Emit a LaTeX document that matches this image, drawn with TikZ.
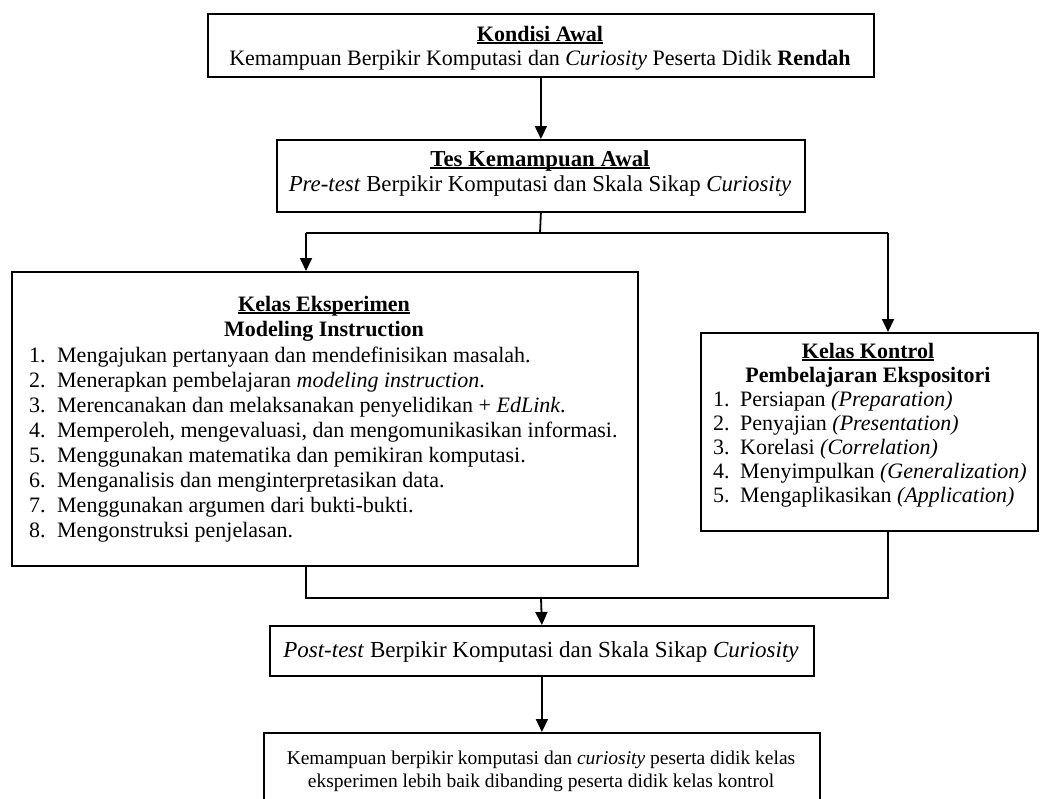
\documentclass[tikz,border=0pt]{standalone}
\usepackage{fontspec}
\setmainfont{Liberation Serif}
\usetikzlibrary{arrows.meta}
\newcommand{\myul}[1]{{\setbox0=\hbox{#1}\rlap{\rule[-2.6pt]{\wd0}{1.2pt}}\box0}}
\newcommand{\fsz}[1]{\fontsize{#1}{#1}\selectfont}
\tikzset{
  box/.style={draw, line width=1.8pt, inner sep=0pt, anchor=north west},
  ln/.style={line width=1.8pt},
  arr/.style={line width=1.8pt, -{Triangle[width=12pt,length=13pt]}},
  txt/.style={inner sep=0pt, anchor=base},
  itm/.style={inner sep=0pt, anchor=base west},
}
\begin{document}
\begin{tikzpicture}[x=1pt,y=-1pt]
\path[use as bounding box] (0,0) rectangle (1041,798);
\begin{scope}
\clip (0,0) rectangle (1041,798);
% boxes
\node[box, minimum width=666pt, minimum height=63pt] (b1) at (207,13) {};
\node[box, minimum width=528pt, minimum height=72pt] (b2) at (276,139) {};
\node[box, minimum width=626pt, minimum height=294pt] (b3) at (11,271) {};
\node[box, minimum width=337pt, minimum height=198pt] (b4) at (700,332) {};
\node[box, minimum width=544pt, minimum height=50pt] (b5) at (269,625) {};
\node[box, minimum width=556pt, minimum height=90pt] (b6) at (263,732) {};
% box 1 text
\node[txt, font=\fsz{22}] (t1a) at (540,41) {\myul{\textbf{Kondisi Awal}}};
\node[txt, font=\fsz{22}] (t1b) at (540,65) {Kemampuan Berpikir Komputasi dan \textit{Curiosity} Peserta Didik \textbf{Rendah}};
% box 2 text
\node[txt, font=\fsz{22.8}] (t2a) at (540,166) {\myul{\textbf{Tes Kemampuan Awal}}};
\node[txt, font=\fsz{22.8}] (t2b) at (540,191) {\textit{Pre-test} Berpikir Komputasi dan Skala Sikap \textit{Curiosity}};
% box 3 text
\node[txt, font=\fsz{22}] (t3a) at (324,311) {\myul{\textbf{Kelas Eksperimen}}};
\node[txt, font=\fsz{22}] (t3b) at (324,336) {\textbf{Modeling Instruction}};
\begin{scope}[every node/.style={itm, font=\fsz{22}}]
\node (e1) at (29,362) {\makebox[28pt][l]{1.}Mengajukan pertanyaan dan mendefinisikan masalah.};
\node (e2) at (29,387) {\makebox[28pt][l]{2.}Menerapkan pembelajaran \textit{modeling instruction}.};
\node (e3) at (29,412) {\makebox[28pt][l]{3.}Merencanakan dan melaksanakan penyelidikan + \textit{EdLink}.};
\node (e4) at (29,437) {\makebox[28pt][l]{4.}Memperoleh, mengevaluasi, dan mengomunikasikan informasi.};
\node (e5) at (29,462) {\makebox[28pt][l]{5.}Menggunakan matematika dan pemikiran komputasi.};
\node (e6) at (29,487) {\makebox[28pt][l]{6.}Menganalisis dan menginterpretasikan data.};
\node (e7) at (29,512) {\makebox[28pt][l]{7.}Menggunakan argumen dari bukti-bukti.};
\node (e8) at (29,537) {\makebox[28pt][l]{8.}Mengonstruksi penjelasan.};
\end{scope}
% box 4 text
\node[txt, font=\fsz{22}] (t4a) at (868,358) {\myul{\textbf{Kelas Kontrol}}};
\node[txt, font=\fsz{22}] (t4b) at (868,382) {\textbf{Pembelajaran Ekspositori}};
\begin{scope}[every node/.style={itm, font=\fsz{22}}]
\node (k1i) at (713,406) {\makebox[27pt][l]{1.}Persiapan \textit{(Preparation)}};
\node (k2i) at (713,430) {\makebox[27pt][l]{2.}Penyajian \textit{(Presentation)}};
\node (k3i) at (713,454) {\makebox[27pt][l]{3.}Korelasi \textit{(Correlation)}};
\node (k4i) at (713,478) {\makebox[27pt][l]{4.}Menyimpulkan \textit{(Generalization)}};
\node (k5i) at (713,502) {\makebox[27pt][l]{5.}Mengaplikasikan \textit{(Application)}};
\end{scope}
% box 5 text
\node[txt, font=\fsz{23}] (t5) at (541,657) {\textit{Post-test} Berpikir Komputasi dan Skala Sikap \textit{Curiosity}};
% box 6 text
\node[txt, font=\fsz{19.5}] (t6a) at (541,764) {Kemampuan berpikir komputasi dan \textit{curiosity} peserta didik kelas};
\node[txt, font=\fsz{19.5}] (t6b) at (541,787) {eksperimen lebih baik dibanding peserta didik kelas kontrol};
% connectors
\coordinate (j1) at (540,233);
\coordinate (jl) at (306,233);
\coordinate (jr) at (888,233);
\coordinate (m1) at (541,598);
\coordinate (ml) at (306,598);
\coordinate (mr) at (888,598);
\draw[arr] (b1.south) -- (b2.north);
\draw[ln] (b2.south) -- (j1);
\draw[ln] (jl) -- (jr);
\draw[arr] (jl) -- (jl |- b3.north);
\draw[arr] (jr) -- (jr |- b4.north);
\draw[ln] (ml |- b3.south) -- (ml) -- (mr) -- (mr |- b4.south);
\draw[arr] (m1) -- (b5.north);
\draw[arr] (b5.south) -- (b6.north);
\end{scope}
\end{tikzpicture}
\end{document}
